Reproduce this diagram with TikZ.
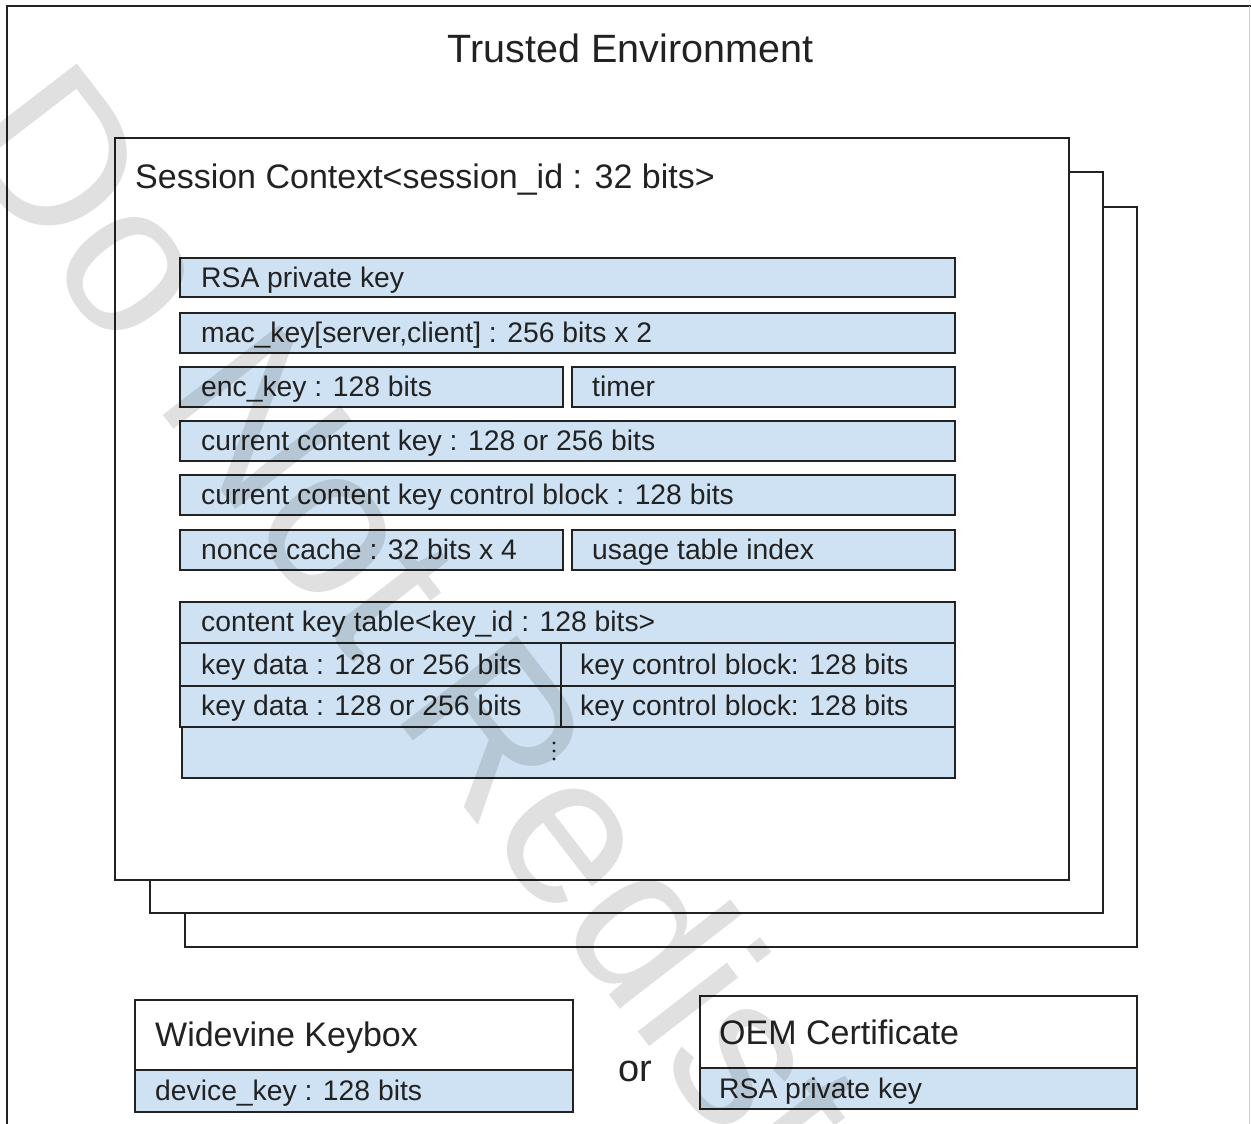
\documentclass[tikz,border=0pt]{standalone}
\usepackage{fontspec}
\setmainfont{Liberation Sans}
\usetikzlibrary{fit}
\definecolor{cellblue}{HTML}{CFE2F3}
\definecolor{ink}{HTML}{222222}
\begin{document}
\begin{tikzpicture}[x=1pt,y=-1pt,
  cell/.style={draw=ink, line width=2pt, fill=cellblue, inner sep=0pt, outer sep=0pt, rectangle},
  sheet/.style={draw=ink, line width=2pt, fill=white, inner sep=0pt, outer sep=0pt, rectangle},
  lbl/.style={anchor=base west, inner sep=0pt, text=ink, font=\fontsize{28.3}{34}\selectfont},
  head/.style={anchor=base west, inner sep=0pt, text=ink, font=\fontsize{34}{40}\selectfont}]
\useasboundingbox (0,0) rectangle (1251,1124);
\begin{scope}
\clip (0,0) rectangle (1251,1124);
% outer frame (cut off at right and bottom)
\coordinate (ftl) at (7,6);
\coordinate (ftr) at (1251,6);
\coordinate (fbl) at (7,1124);
\draw[ink, line width=2.5pt] (fbl) -- (ftl) -- (ftr);
\coordinate (rgt) at (1249.5,6);
\coordinate (rgb) at (1249.5,1124);
\draw[gray!40, line width=1pt] (rgt) -- (rgb);

\node[anchor=base, inner sep=0pt, text=ink, font=\fontsize{39.5}{46}\selectfont] (title) at (630.5,62.7) {Trusted Environment};

% stacked session sheets
\node[sheet, fit={(185,207) (1137,947)}] (sheet3) {};
\node[sheet, fit={(150,172) (1103,913)}] (sheet2) {};
\node[sheet, fit={(115,138) (1069,880)}] (sheet1) {};
\node[head] (session) at (135,188.5) {Session Context<session\_id : 32 bits>};

% rows
\node[cell, fit={(180,258) (955,297)}] (rsa) {};
\node[lbl] (rsat) at (201,287) {RSA private key};
\node[cell, fit={(180,313) (955,353)}] (mac) {};
\node[lbl] (mact) at (201,342.5) {mac\_key[server,client] : 256 bits x 2};
\node[cell, fit={(180,367) (563,407)}] (enc) {};
\node[lbl] (enct) at (201,396.5) {enc\_key : 128 bits};
\node[cell, fit={(572,367) (955,407)}] (timer) {};
\node[lbl] (timert) at (592,396.5) {timer};
\node[cell, fit={(180,421) (955,461)}] (cck) {};
\node[lbl] (cckt) at (201,450.5) {current content key : 128 or 256 bits};
\node[cell, fit={(180,475) (955,515)}] (ccb) {};
\node[lbl] (ccbt) at (201,504.5) {current content key control block : 128 bits};
\node[cell, fit={(180,530) (563,570)}] (nonce) {};
\node[lbl] (noncet) at (201,559.5) {nonce cache : 32 bits x 4};
\node[cell, fit={(572,530) (955,570)}] (usage) {};
\node[lbl] (usaget) at (592,559.5) {usage table index};

% content key table
\node[cell, fit={(182,727) (955,778)}] (more) {};
\node[cell, fit={(180,602) (955,643)}] (ckt) {};
\node[lbl] (cktt) at (201,631.7) {content key table<key\_id : 128 bits>};
\node[cell, fit={(180,643) (561,686)}] (kd1) {};
\node[lbl] (kd1t) at (201,674) {key data : 128 or 256 bits};
\node[cell, fit={(561,643) (955,686)}] (kc1) {};
\node[lbl] (kc1t) at (580,674) {key control block: 128 bits};
\node[cell, fit={(180,686) (561,727)}] (kd2) {};
\node[lbl] (kd2t) at (201,715) {key data : 128 or 256 bits};
\node[cell, fit={(561,686) (955,727)}] (kc2) {};
\node[lbl] (kc2t) at (580,715) {key control block: 128 bits};
\fill[ink] (554,743) circle (1.6) (554,751) circle (1.6) (554,759) circle (1.6);

% keybox / certificate
\node[sheet, fit={(134.5,1000) (573,1070)}] (wvk) {};
\node[cell, fit={(134.5,1070) (573,1112)}] (wvkd) {};
\node[head] (wvkt) at (155,1046.7) {Widevine Keybox};
\node[lbl] (wvkdt) at (155,1100.7) {device\_key : 128 bits};
\node[anchor=base, inner sep=0pt, text=ink, font=\fontsize{38}{44}\selectfont] (or) at (635,1081) {or};
\node[sheet, fit={(700,996) (1137,1068)}] (oem) {};
\node[cell, fit={(700,1068) (1137,1109)}] (oemk) {};
\node[head] (oemt) at (719,1044) {OEM Certificate};
\node[lbl] (oemkt) at (719,1098.3) {RSA private key};

% watermark
\node[anchor=base west, inner sep=0pt, rotate=-52.4, text=black, text opacity=0.12, font=\fontsize{213}{240}\selectfont] (wm) at (-49.8,139.1) {Do Not Redistribute};
\end{scope}
\end{tikzpicture}
\end{document}
